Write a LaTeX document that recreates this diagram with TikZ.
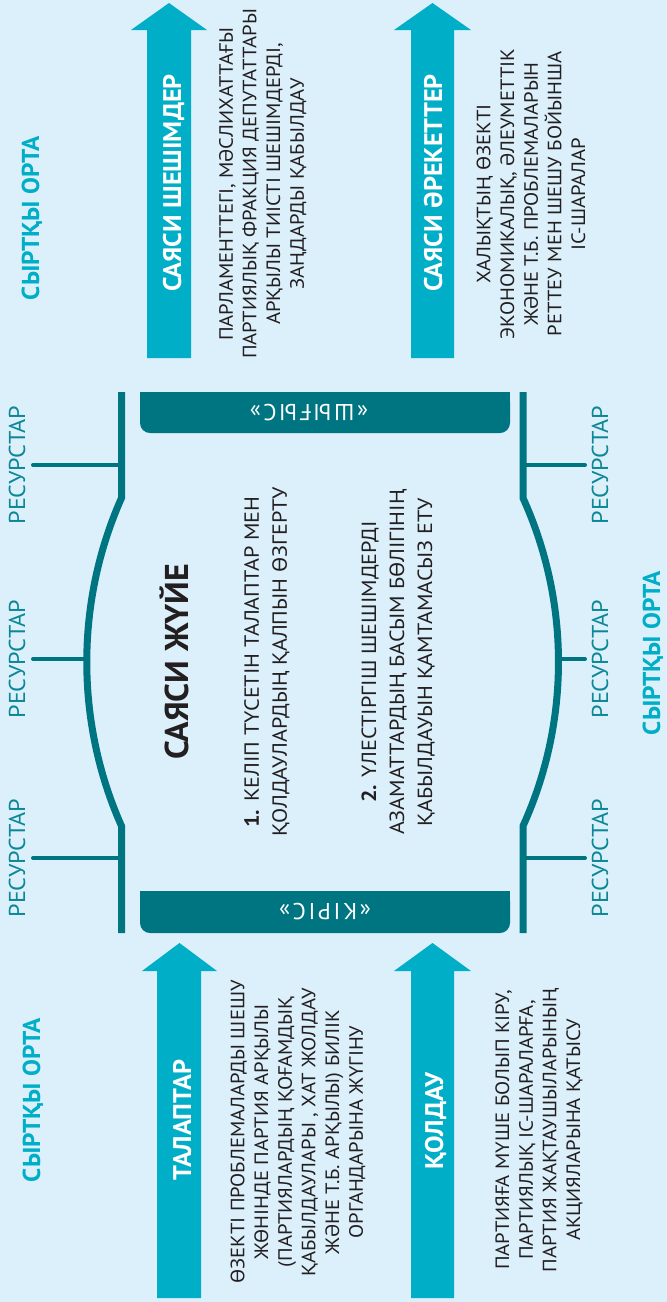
\documentclass[tikz,border=0pt]{standalone}
\usepackage{fontspec}
\setmainfont{PT Sans}
\newfontfamily\itemfont[FakeStretch=1.08]{PT Sans}
\newfontfamily\descfont[FakeStretch=1.07]{PT Sans}
\newfontfamily\resfont[FakeStretch=1.05]{PT Sans}
\newfontfamily\labelfont[FakeStretch=1.03]{PT Sans}
\newfontfamily\barfont[LetterSpace=12]{PT Sans}
\definecolor{bgblue}{RGB}{220,240,251}
\definecolor{arrowcyan}{RGB}{0,174,199}
\definecolor{darkteal}{RGB}{0,117,130}
\definecolor{restext}{RGB}{12,135,150}
\definecolor{bodytext}{RGB}{35,31,32}
\begin{document}
\begin{tikzpicture}[x=1pt,y=-1pt,
  frameline/.style={darkteal,line width=7pt},
  tickline/.style={darkteal,line width=4pt,line cap=round},
  bigarrow/.style={fill=arrowcyan,draw=none},
  outer/.style={text=arrowcyan,font=\labelfont\fontsize{24.5}{28}\selectfont\bfseries,rotate=90,anchor=base,inner sep=0},
  restag/.style={text=restext,font=\resfont\fontsize{23}{26}\selectfont,rotate=90,anchor=base,inner sep=0},
  arrowlabel/.style={text=white,font=\labelfont\fontsize{25.5}{30}\selectfont\bfseries,rotate=90,anchor=base,inner sep=0},
  desc/.style={text=bodytext,font=\descfont\fontsize{19.3}{23.7}\selectfont,rotate=90,align=center,inner sep=0},
  itemtext/.style={text=bodytext,font=\itemfont\fontsize{20.5}{28}\selectfont,rotate=90,align=center,inner sep=0},
  bartext/.style={text=white,font=\barfont\fontsize{23}{25}\selectfont,rotate=180,inner sep=0},
  systitle/.style={text=bodytext,font=\labelfont\fontsize{33}{36}\selectfont\bfseries,rotate=90,anchor=base,inner sep=0},
  barfill/.style={fill=darkteal,draw=none},
]
\fill[bgblue] (0,0) rectangle (667,1302);
\useasboundingbox (0,0) rectangle (667,1302);

% arrows
\fill[bigarrow] (147,358) -- (147,30) -- (131,30) -- (169,3) -- (207,30) -- (191,30) -- (191,358) -- cycle;
\fill[bigarrow] (411,358) -- (411,30) -- (394,30) -- (432.5,3) -- (471,30) -- (454,30) -- (454,358) -- cycle;
\fill[bigarrow] (157,1298) -- (157,971) -- (142,971) -- (179.5,943) -- (217,971) -- (201,971) -- (201,1298) -- cycle;
\fill[bigarrow] (411,1298) -- (411,971) -- (394,971) -- (432.5,943) -- (471,971) -- (454,971) -- (454,1298) -- cycle;

\node[arrowlabel] (lab1) at (181,183) {САЯСИ ШЕШІМДЕР};
\node[arrowlabel] (lab2) at (442,183) {САЯСИ ӘРЕКЕТТЕР};
\node[arrowlabel] (lab3) at (191,1120) {ТАЛАПТАР};
\node[arrowlabel] (lab4) at (443,1121) {ҚОЛДАУ};

% bars
\fill[barfill,rounded corners=10pt] (140,392) rectangle (510,433);
\fill[barfill] (140,392) rectangle (510,415);
\fill[barfill,rounded corners=10pt] (140,891) rectangle (510,933);
\fill[barfill] (140,891) rectangle (510,912);
\node[bartext] (out) at (309,413) {«ШЫҒЫС»};
\node[bartext] (in) at (325,912) {«КІРІС»};

% frame
\coordinate (LT) at (121.5,392);
\coordinate (LK1) at (121.5,498);
\coordinate (LK2) at (121.5,826);
\coordinate (LB) at (121.5,933);
\coordinate (RT) at (523,392);
\coordinate (RK1) at (523,498);
\coordinate (RK2) at (523,826);
\coordinate (RB) at (523,933);
\draw[frameline] (LT) -- (LK1) .. controls (75.2,602) and (75.2,722) .. (LK2) -- (LB);
\draw[frameline] (RT) -- (RK1) .. controls (570.3,602) and (570.3,722) .. (RK2) -- (RB);

% resource ticks
\coordinate (LF1) at (121.5,465);
\coordinate (LF2) at (87,659);
\coordinate (LF3) at (121.5,858);
\coordinate (RF1) at (523,465);
\coordinate (RF2) at (558,659);
\coordinate (RF3) at (523,858);
\coordinate (LE1) at (33,465);
\coordinate (LE2) at (33,659);
\coordinate (LE3) at (33,858);
\coordinate (RE1) at (585,465);
\coordinate (RE2) at (585,659);
\coordinate (RE3) at (585,858);
\draw[tickline] (LE1) -- (LF1);
\draw[tickline] (LE2) -- (LF2);
\draw[tickline] (LE3) -- (LF3);
\draw[tickline] (RE1) -- (RF1);
\draw[tickline] (RE2) -- (RF2);
\draw[tickline] (RE3) -- (RF3);

\node[restag] (r1) at (25,465) {РЕСУРСТАР};
\node[restag] (r2) at (25,659) {РЕСУРСТАР};
\node[restag] (r3) at (25,858) {РЕСУРСТАР};
\node[restag] (r4) at (608,465) {РЕСУРСТАР};
\node[restag] (r5) at (608,659) {РЕСУРСТАР};
\node[restag] (r6) at (608,858) {РЕСУРСТАР};

% outer environment
\node[outer] (env1) at (39,218) {СЫРТҚЫ ОРТА};
\node[outer] (env2) at (40,1100) {СЫРТҚЫ ОРТА};
\node[outer] (env3) at (660,653) {СЫРТҚЫ ОРТА};

% system
\node[systitle] (sys) at (188,662) {САЯСИ ЖҮЙЕ};
\node[itemtext] (item1) at (267,662) {{\bfseries 1.} КЕЛІП ТҮСЕТІН ТАЛАПТАР МЕН\\ҚОЛДАУЛАРДЫҢ ҚАЛПЫН ӨЗГЕРТУ};
\node[itemtext] (item2) at (398,662) {{\bfseries 2.} ҮЛЕСТІРГІШ ШЕШІМДЕРДІ\\АЗАМАТТАРДЫҢ БАСЫМ БӨЛІГІНІҢ\\ҚАБЫЛДАУЫН ҚАМТАМАСЫЗ ЕТУ};

% descriptions
\node[desc] (d1) at (262.7,184) {ПАРЛАМЕНТТЕГІ, МӘСЛИХАТТАҒЫ\\ПАРТИЯЛЫҚ ФРАКЦИЯ ДЕПУТАТТАРЫ\\АРҚЫЛЫ ТИІСТІ ШЕШІМДЕРДІ,\\ЗАҢДАРДЫ ҚАБЫЛДАУ};
\node[desc] (d2) at (531,194) {ХАЛЫҚТЫҢ ӨЗЕКТІ\\ЭКОНОМИКАЛЫҚ, ӘЛЕУМЕТТІК\\ЖӘНЕ Т.Б. ПРОБЛЕМАЛАРЫН\\РЕТТЕУ МЕН ШЕШУ БОЙЫНША\\ІС-ШАРАЛАР};
\node[desc] (d3) at (298,1132) {ӨЗЕКТІ ПРОБЛЕМАЛАРДЫ ШЕШУ\\ЖӨНІНДЕ ПАРТИЯ АРҚЫЛЫ\\(ПАРТИЯЛАРДЫҢ ҚОҒАМДЫҚ\\ҚАБЫЛДАУЛАРЫ , ХАТ ЖОЛДАУ\\ЖӘНЕ Т.Б. АРҚЫЛЫ) БИЛІК\\ОРГАНДАРЫНА ЖҮГІНУ};
\node[desc] (d4) at (539,1130) {ПАРТИЯҒА МҮШЕ БОЛЫП КІРУ,\\ПАРТИЯЛЫҚ ІС-ШАРАЛАРҒА,\\ПАРТИЯ ЖАҚТАУШЫЛАРЫНЫҢ\\АКЦИЯЛАРЫНА ҚАТЫСУ};
\end{tikzpicture}
\end{document}
